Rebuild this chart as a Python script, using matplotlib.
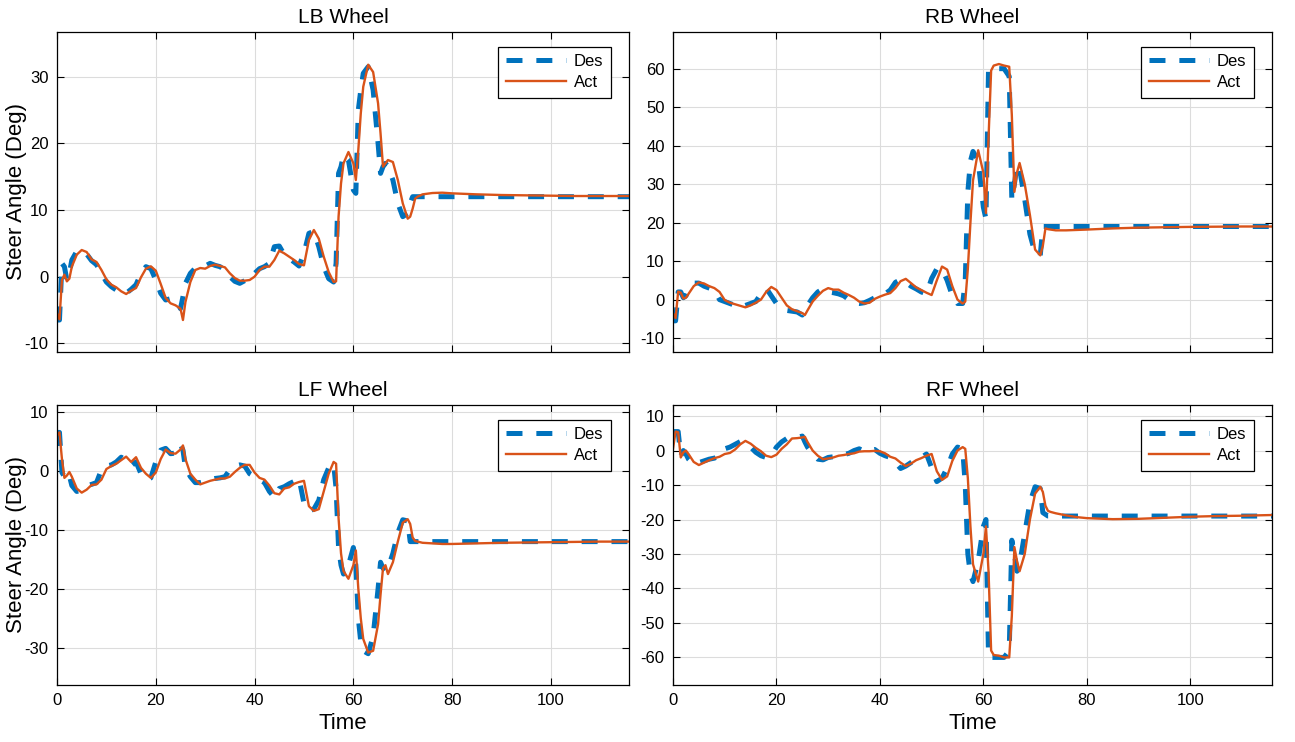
import matplotlib
matplotlib.use('Agg')
import matplotlib.pyplot as plt

plt.rcParams['font.family'] = ['Liberation Sans', 'DejaVu Sans']
plt.rcParams['lines.scale_dashes'] = False
plt.rcParams['axes.unicode_minus'] = False

# time base (s)
t = [0, 0.5, 1, 1.5, 2, 2.5, 3, 4, 5, 6,
     7, 8, 9, 10, 11, 12, 13, 14, 15, 16,
     17, 18, 19, 20, 21, 22, 23, 24, 25, 25.5,
     26, 27, 28, 29, 30, 31, 32, 33, 34, 35,
     36, 37, 38, 39, 40, 41, 42, 43, 44, 45,
     46, 47, 48, 49, 50, 51, 52, 53, 54, 55,
     56, 56.5, 57, 57.5, 58, 59, 60, 60.5, 61, 61.5,
     62, 63, 64, 65, 65.5, 66, 66.5, 67, 68, 69,
     70, 71, 71.5, 72, 72.5, 73, 74, 76, 78, 80,
     85, 90, 95, 100, 105, 110, 115.8]

lb_des = [-6.5, -6.5, 2.0, 1.5, -0.5, 0.5, 2.5, 3.8, 3.9, 3.4,
          2.4, 1.8, 0.5, -0.8, -1.5, -2.0, -2.5, -2.5, -1.9, -1.2,
          0.5, 1.5, 1.2, -0.5, -2.5, -3.5, -3.3, -3.3, -4.8, -3.0,
          -1.0, 0.5, 1.3, 1.4, 1.6, 2.0, 1.7, 1.5, 1.0, 0.0,
          -0.7, -1.0, -0.6, -0.5, 0.5, 1.2, 1.5, 2.0, 4.5, 4.6,
          3.3, 2.7, 2.2, 1.6, 3.5, 6.5, 6.8, 4.5, 1.5, -0.3,
          -0.8, 2.0, 15.5, 16.5, 18.3, 17.5, 13.0, 12.5, 25.0, 28.0,
          30.5, 31.5, 28.0, 20.0, 15.5, 16.5, 17.0, 16.5, 14.5, 11.0,
          9.0, 9.5, 11.0, 12.0, 12.0, 12.0, 12.0, 12.0, 12.0, 12.0,
          12.0, 12.0, 12.0, 12.0, 12.0, 12.0, 12.0]
lb_act = [-5.5, -6.4, -0.5, 0.3, -0.7, -0.3, 1.5, 3.3, 4.0, 3.7,
          2.6, 2.2, 1.0, -0.4, -1.2, -1.6, -2.2, -2.6, -2.1, -1.7,
          -0.1, 1.2, 1.55, 0.9, -1.1, -3.2, -4.0, -4.3, -4.8, -6.5,
          -3.8, -0.8, 1.0, 1.3, 1.2, 1.6, 1.8, 1.6, 1.4, 0.5,
          -0.2, -0.6, -0.6, -0.5, 0.0, 1.0, 1.5, 1.5, 2.5, 3.9,
          3.5, 3.0, 2.5, 1.9, 1.7, 5.5, 7.0, 5.7, 3.0, 0.7,
          -0.8, -0.7, 9.0, 14.0, 17.0, 18.7, 17.0, 14.5, 19.0, 24.5,
          28.5, 31.8, 30.7, 26.0, 21.5, 16.5, 17.0, 17.5, 17.2, 14.5,
          11.0, 8.7, 9.0, 10.2, 11.7, 12.0, 12.35, 12.55, 12.6, 12.5,
          12.35, 12.25, 12.2, 12.15, 12.1, 12.1, 12.1]

rb_des = [-5.5, -5.5, 2.0, 2.0, 0.5, 1.0, 2.5, 4.3, 4.3, 3.5,
          3.0, 2.5, 0.0, -0.5, -1.0, -1.5, -2.0, -1.5, -1.0, -0.5,
          1.5, 3.0, 1.0, -1.0, -2.0, -2.8, -3.0, -3.2, -4.0, -2.5,
          -1.5, 0.5, 2.0, 2.8, 2.0, 1.8, 1.5, 1.0, 0.0, -0.8,
          -1.0, -0.8, -0.2, 0.5, 1.0, 1.5, 2.5, 4.5, 5.2, 4.5,
          3.5, 2.8, 2.0, 1.5, 5.5, 8.0, 8.0, 5.0, 1.0, -1.0,
          -1.0, 5.0, 28.0, 36.0, 38.5, 36.0, 24.0, 21.0, 60.0, 60.0,
          60.0, 60.0, 60.0, 58.0, 26.0, 30.0, 35.0, 34.0, 26.0, 17.0,
          12.0, 11.5, 19.0, 19.0, 19.0, 19.0, 19.0, 19.0, 19.0, 19.0,
          19.0, 19.0, 19.0, 19.0, 19.0, 19.0, 19.0]
rb_act = [-3.5, -4.8, 2.1, 1.8, 0.3, 0.5, 1.5, 3.5, 4.5, 4.2,
          3.5, 3.0, 2.0, -0.1, -0.8, -1.2, -1.6, -2.0, -1.5, -0.8,
          0.0, 2.0, 3.3, 2.5, 0.5, -1.5, -2.5, -3.0, -3.5, -4.0,
          -2.8, -0.5, 1.0, 2.3, 3.0, 2.6, 2.6, 1.8, 1.2, 0.5,
          -0.5, -1.0, -0.8, 0.2, 0.8, 1.3, 1.7, 3.0, 4.8, 5.4,
          4.3, 3.2, 2.5, 1.8, 1.2, 5.0, 8.6, 7.8, 3.5, 0.0,
          -1.0, -0.5, 8.0, 20.0, 31.0, 38.8, 33.0, 22.5, 42.0, 59.5,
          60.8, 61.2, 60.8, 60.5, 48.0, 28.0, 33.0, 35.5, 30.0, 22.0,
          13.0, 11.5, 14.0, 18.5, 18.3, 18.2, 18.0, 18.0, 18.1, 18.2,
          18.5, 18.7, 18.8, 18.9, 18.95, 19.0, 19.0]

lf_des = [6.5, 6.5, -0.3, -1.0, -0.3, -0.8, -2.5, -3.5, -3.3, -2.5,
          -2.3, -2.0, 0.2, 0.8, 1.0, 1.5, 2.3, 1.8, 0.8, 1.5,
          -0.5, -1.5, -1.2, 1.5, 3.5, 3.8, 2.9, 3.0, 4.5, 3.5,
          0.5, -1.0, -2.0, -2.0, -1.8, -1.5, -1.3, -1.2, -1.0, 0.2,
          0.8, 1.0, 0.8, -0.5, -1.0, -1.5, -2.0, -3.5, -4.5, -3.0,
          -2.7, -2.2, -1.8, -1.3, -5.5, -6.8, -6.5, -5.0, -1.5, 0.5,
          1.2, -3.0, -13.0, -16.0, -17.5, -16.0, -13.0, -16.0, -25.0, -29.0,
          -30.5, -31.0, -28.0, -20.0, -15.5, -16.5, -17.0, -16.5, -14.0, -10.5,
          -8.3, -8.5, -12.0, -12.0, -12.0, -12.0, -12.0, -12.0, -12.0, -12.0,
          -12.0, -12.0, -12.0, -12.0, -12.0, -12.0, -12.0]
lf_act = [6.0, 6.5, 2.0, -1.2, -0.8, -0.2, -1.0, -3.0, -3.7, -3.2,
          -2.4, -2.3, -1.5, 0.3, 0.8, 1.2, 1.8, 2.4, 1.5, 2.3,
          0.5, -0.5, -1.2, -0.3, 2.0, 3.6, 3.0, 2.9, 3.6, 4.3,
          2.0, -0.5, -1.5, -2.3, -2.0, -1.7, -1.5, -1.3, -1.3, -1.0,
          -0.2, 0.5, 1.0, 1.0, -0.3, -1.2, -1.5, -2.5, -3.8, -4.0,
          -3.0, -2.8, -2.2, -1.9, -1.7, -6.0, -6.8, -6.5, -3.5, -0.5,
          1.5, 1.2, -8.0, -14.0, -17.0, -18.3, -16.0, -13.5, -20.0, -25.0,
          -28.5, -30.8, -30.5, -26.0, -21.0, -16.5, -16.0, -17.5, -15.5, -12.0,
          -8.8, -8.2, -9.0, -11.3, -11.9, -12.0, -12.2, -12.3, -12.4, -12.4,
          -12.3, -12.2, -12.15, -12.1, -12.05, -12.0, -12.0]

rf_des = [5.5, 5.5, 5.5, -1.5, 0.0, -1.0, -2.5, -4.0, -3.5, -3.0,
          -2.5, -2.2, -1.5, 0.5, 1.0, 1.8, 2.6, 2.0, 1.0, -0.5,
          -1.5, -2.0, -1.5, 1.0, 2.5, 3.5, 3.5, 3.8, 4.2, 2.5,
          1.0, -1.0, -2.5, -2.7, -2.0, -1.8, -1.5, -1.2, -0.8, 0.0,
          0.5, -0.2, 0.0, 0.3, -0.8, -1.5, -2.0, -3.5, -5.2, -4.5,
          -3.5, -2.5, -2.0, -1.0, -5.0, -9.0, -8.0, -5.0, -1.0, 1.0,
          0.5, -10.0, -30.0, -36.0, -38.0, -32.0, -22.0, -20.0, -60.0, -60.0,
          -60.0, -60.0, -60.0, -58.0, -26.0, -30.0, -35.0, -33.0, -24.0, -15.0,
          -10.5, -11.0, -18.0, -18.5, -19.0, -19.0, -19.0, -19.0, -19.0, -19.0,
          -19.0, -19.0, -19.0, -19.0, -19.0, -19.0, -19.0]
rf_act = [0.5, 5.5, 5.3, -2.0, -0.5, 0.0, -1.0, -3.3, -4.2, -3.5,
          -2.8, -2.2, -1.8, -1.0, -0.7, 0.3, 1.8, 2.8, 2.0, 0.8,
          -0.2, -1.5, -1.9, -1.2, 0.5, 1.8, 3.5, 3.6, 3.8, 4.0,
          2.5, 0.0, -1.5, -2.5, -2.3, -2.0, -1.5, -1.3, -1.0, -0.8,
          -0.3, -0.2, -0.2, -0.1, -0.2, -0.8, -1.8, -2.3, -3.5, -4.5,
          -3.8, -2.8, -2.2, -1.5, -1.0, -6.0, -8.5, -7.5, -3.0, 0.0,
          1.0, 0.5, -8.0, -22.0, -33.0, -38.0, -30.0, -22.0, -35.0, -58.0,
          -59.3, -59.5, -60.0, -60.0, -48.0, -28.0, -32.0, -35.0, -30.0, -20.0,
          -12.5, -10.5, -12.0, -16.0, -17.5, -17.8, -18.2, -18.8, -19.3, -19.6,
          -19.9, -19.8, -19.5, -19.2, -19.0, -18.9, -18.7]

W, H = 1295, 742
fig = plt.figure(figsize=(W / 100, H / 100), dpi=100)

# (title, des, act, ylim, yticks, [left, top, right, bottom] in px)
panels = [
    ('LB Wheel', lb_des, lb_act, (-11.3, 36.75), range(-10, 31, 10), (57, 31.7, 629, 352)),
    ('RB Wheel', rb_des, rb_act, (-13.6, 69.6), range(-10, 61, 10), (673, 31.7, 1272, 352)),
    ('LF Wheel', lf_des, lf_act, (-36.3, 11.2), range(-30, 11, 10), (57, 404.7, 629, 685)),
    ('RF Wheel', rf_des, rf_act, (-68.0, 13.3), range(-60, 11, 10), (673, 404.7, 1272, 685)),
]

for i, (title, des, act, ylim, yt, box) in enumerate(panels):
    l, tp, r, b = box
    ax_w = r - l
    ax_h = b - tp
    ax = fig.add_axes([l / W, 1 - b / H, ax_w / W, ax_h / H])
    ax.plot(t, des, color='#0072BD', lw=3.6, linestyle=(0, (11.5, 10)), label='Des')
    ax.plot(t, act, color='#D95319', lw=1.7, label='Act')
    ax.set_xlim(0, 115.8)
    ax.set_ylim(*ylim)
    ax.set_yticks(list(yt))
    ax.set_xticks(range(0, 101, 20))
    ax.grid(True, color='#dcdcdc', lw=0.8)
    ax.set_axisbelow(True)
    ax.tick_params(direction='in', top=True, right=True, length=5, width=0.8,
                   labelsize=12, colors='black', pad=6)
    for s in ax.spines.values():
        s.set_linewidth(0.9)
        s.set_color('black')
    ax.set_title(title, fontsize=15, pad=6)
    if i < 2:
        ax.tick_params(labelbottom=False)
    else:
        ax.set_xlabel('Time', fontsize=16)
        ax.xaxis.set_label_coords(0.5, -(713 - b) / ax_h)
    if i % 2 == 0:
        ax.set_ylabel('Steer Angle (Deg)', fontsize=16)
        ax.yaxis.set_label_coords(-(l - 27) / ax_w, 0.5)
    leg = ax.legend(loc='upper right', bbox_to_anchor=(1 - 18 / ax_w, 1 - 15 / ax_h),
                    borderaxespad=0, fancybox=False, framealpha=1, edgecolor='black',
                    fontsize=12, handlelength=3.6, handletextpad=0.5,
                    labelspacing=0.35, borderpad=0.45)
    leg.get_frame().set_linewidth(0.9)

plt.savefig('out.png', dpi=100)
